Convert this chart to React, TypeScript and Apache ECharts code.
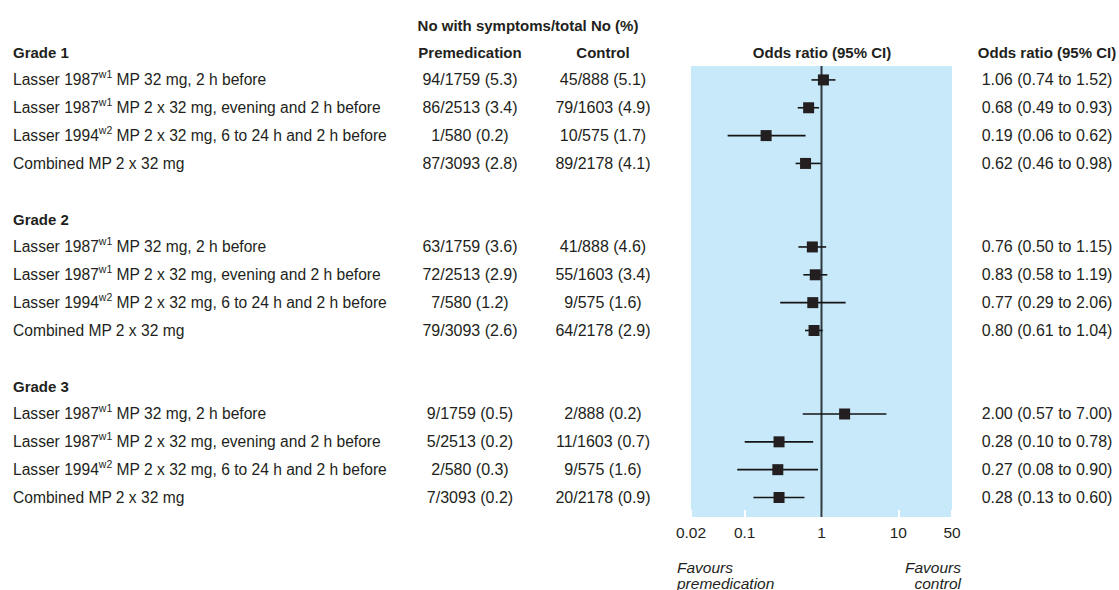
import React, { useEffect, useRef } from "react";
import * as echarts from "echarts";

const grades = ["Grade 1", "Grade 2", "Grade 3"];
const trials = ["Lasser 1987", "Lasser 1987", "Lasser 1994", "Combined"];
const trialRefs = ["w1", "w1", "w2", ""];
const regimens = [
  "MP 32 mg, 2 h before",
  "MP 2 x 32 mg, evening and 2 h before",
  "MP 2 x 32 mg, 6 to 24 h and 2 h before",
  "MP 2 x 32 mg",
];
const premedEvents = [
  [94, 86, 1, 87],
  [63, 72, 7, 79],
  [9, 5, 2, 7],
];
const premedTotals = [1759, 2513, 580, 3093];
const premedPct = [
  [5.3, 3.4, 0.2, 2.8],
  [3.6, 2.9, 1.2, 2.6],
  [0.5, 0.2, 0.3, 0.2],
];
const controlEvents = [
  [45, 79, 10, 89],
  [41, 55, 9, 64],
  [2, 11, 9, 20],
];
const controlTotals = [888, 1603, 575, 2178];
const controlPct = [
  [5.1, 4.9, 1.7, 4.1],
  [4.6, 3.4, 1.6, 2.9],
  [0.2, 0.7, 1.6, 0.9],
];
const oddsRatio = [
  [1.06, 0.68, 0.19, 0.62],
  [0.76, 0.83, 0.77, 0.8],
  [2.0, 0.28, 0.27, 0.28],
];
const ciLow = [
  [0.74, 0.49, 0.06, 0.46],
  [0.5, 0.58, 0.29, 0.61],
  [0.57, 0.1, 0.08, 0.13],
];
const ciHigh = [
  [1.52, 0.93, 0.62, 0.98],
  [1.15, 1.19, 2.06, 1.04],
  [7.0, 0.78, 0.9, 0.6],
];
const xTicks = [0.02, 0.1, 1, 10, 50];

const FONT = "'Liberation Sans', Arial, Helvetica, sans-serif";
const INK = "#231f20";
const ROWS_PER_GRADE = trials.length + 2;

export default function App() {
  const ref = useRef<HTMLDivElement>(null);

  useEffect(() => {
    if (!ref.current) return;
    const chart = echarts.init(ref.current, undefined, { renderer: "svg" });

    const studyData: number[][] = [];
    const headerData: number[][] = [];
    grades.forEach((_, g) => {
      headerData.push([1, g * ROWS_PER_GRADE, g]);
      trials.forEach((__, i) => {
        studyData.push([
          oddsRatio[g][i],
          g * ROWS_PER_GRADE + 1 + i,
          ciLow[g][i],
          ciHigh[g][i],
          g,
          i,
        ]);
      });
    });
    const lastRow = (grades.length - 1) * ROWS_PER_GRADE + trials.length;

    const headText = (text: string, x: number, y: number) => ({
      type: "text",
      x,
      y,
      style: {
        text,
        fill: INK,
        font: `bold 15px ${FONT}`,
        align: "center",
        verticalAlign: "middle",
      },
    });
    const italicText = (text: string, x: number, y: number, align: string) => ({
      type: "text",
      x,
      y,
      style: {
        text,
        fill: INK,
        font: `italic 15.5px ${FONT}`,
        align,
        verticalAlign: "middle",
      },
    });

    const option: any = {
      animation: false,
      grid: {
        left: 691,
        right: 167,
        top: 66,
        bottom: 73,
        show: true,
        backgroundColor: "#c7e9f9",
        borderWidth: 0,
      },
      xAxis: {
        type: "log",
        logBase: 10,
        min: xTicks[0],
        max: xTicks[xTicks.length - 1],
        axisLine: { show: false },
        axisTick: {
          show: true,
          inside: true,
          length: 7,
          lineStyle: { color: "#ffffff", width: 2 },
        },
        splitLine: { show: false },
        axisLabel: {
          color: INK,
          fontFamily: FONT,
          fontSize: 15.5,
          margin: 7,
          showMinLabel: true,
          showMaxLabel: true,
          formatter: (v: number) => String(parseFloat(v.toPrecision(6))),
        },
      },
      yAxis: {
        type: "value",
        inverse: true,
        min: 0.5,
        max: lastRow + 0.7,
        show: false,
      },
      graphic: [
        headText("No with symptoms/total No (%)", 528, 25),
        headText("Premedication", 470, 52),
        headText("Control", 603, 52),
        headText("Odds ratio (95% CI)", 822, 52),
        headText("Odds ratio (95% CI)", 1047, 52),
        italicText("Favours", 677, 567, "left"),
        italicText("premedication", 677, 583, "left"),
        italicText("Favours", 961, 567, "right"),
        italicText("control", 961, 583, "right"),
      ],
      series: [
        {
          type: "line",
          z: 1,
          silent: true,
          showSymbol: false,
          data: [
            [1, 0.5],
            [1, lastRow + 0.7],
          ],
          lineStyle: { color: "#2e3a41", width: 2 },
        },
        {
          type: "custom",
          z: 3,
          clip: false,
          silent: true,
          encode: { x: 0, y: 1 },
          data: headerData,
          renderItem: (params: any, api: any) => {
            const g = api.value(2);
            const pt = api.coord([1, api.value(1)]);
            return {
              type: "text",
              x: 13,
              y: pt[1],
              style: {
                text: grades[g],
                fill: INK,
                font: `bold 15px ${FONT}`,
                align: "left",
                verticalAlign: "middle",
              },
            };
          },
        },
        {
          type: "custom",
          z: 3,
          clip: false,
          silent: true,
          encode: { x: 0, y: 1 },
          data: studyData,
          renderItem: (params: any, api: any) => {
            const row = api.value(1);
            const g = api.value(4);
            const i = api.value(5);
            const c = api.coord([api.value(0), row]);
            const lo = api.coord([api.value(2), row])[0];
            const hi = api.coord([api.value(3), row])[0];
            const cy = c[1];
            const s = 11;
            const tref = trialRefs[i];
            const labelText = tref
              ? `{n|${trials[i]}}{s|${tref}}{n| ${regimens[i]}}`
              : `{n|${trials[i]} ${regimens[i]}}`;
            const orText = `${oddsRatio[g][i].toFixed(2)} (${ciLow[g][i].toFixed(2)} to ${ciHigh[g][i].toFixed(2)})`;
            return {
              type: "group",
              children: [
                {
                  type: "line",
                  shape: { x1: lo, y1: cy, x2: hi, y2: cy },
                  style: { stroke: "#151515", lineWidth: 1.6 },
                },
                {
                  type: "rect",
                  shape: { x: c[0] - s / 2, y: cy - s / 2, width: s, height: s },
                  style: { fill: INK },
                },
                {
                  type: "text",
                  x: 13,
                  y: cy,
                  style: {
                    text: labelText,
                    fill: INK,
                    align: "left",
                    verticalAlign: "middle",
                    rich: {
                      n: {
                        fontFamily: FONT,
                        fontSize: 15.6,
                        lineHeight: 22,
                        fill: INK,
                      },
                      s: {
                        fontFamily: FONT,
                        fontSize: 10.5,
                        lineHeight: 11,
                        verticalAlign: "top",
                        fill: INK,
                      },
                    },
                  },
                },
                {
                  type: "text",
                  x: 470,
                  y: cy,
                  style: {
                    text: `${premedEvents[g][i]}/${premedTotals[i]} (${premedPct[g][i].toFixed(1)})`,
                    fill: INK,
                    font: `16px ${FONT}`,
                    align: "center",
                    verticalAlign: "middle",
                  },
                },
                {
                  type: "text",
                  x: 603,
                  y: cy,
                  style: {
                    text: `${controlEvents[g][i]}/${controlTotals[i]} (${controlPct[g][i].toFixed(1)})`,
                    fill: INK,
                    font: `16px ${FONT}`,
                    align: "center",
                    verticalAlign: "middle",
                  },
                },
                {
                  type: "text",
                  x: 1047,
                  y: cy,
                  style: {
                    text: orText,
                    fill: INK,
                    font: `16px ${FONT}`,
                    align: "center",
                    verticalAlign: "middle",
                  },
                },
              ],
            };
          },
        },
      ],
    };

    chart.setOption(option);
    return () => chart.dispose();
  }, []);

  return (
    <div
      ref={ref}
      style={{ position: "fixed", left: 0, top: 0, width: 1119, height: 590, background: "#fff" }}
    />
  );
}
